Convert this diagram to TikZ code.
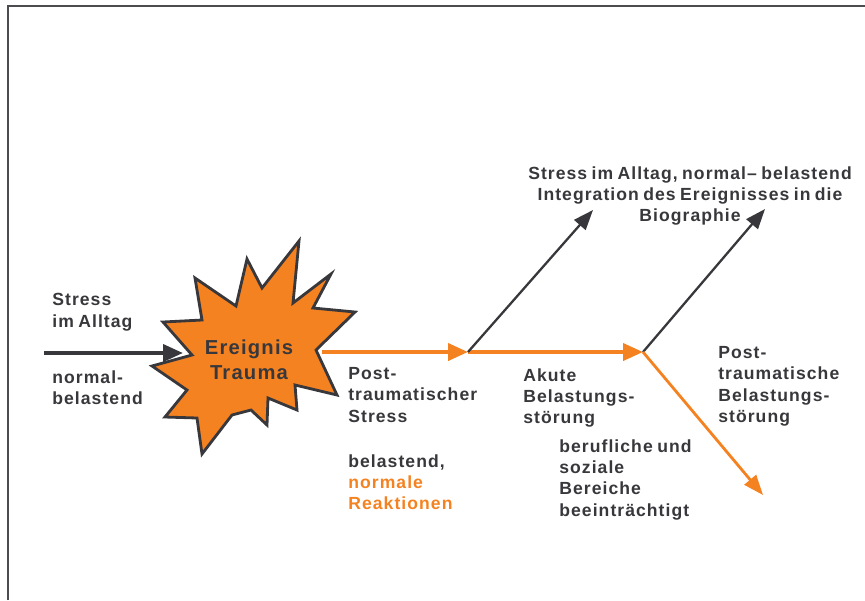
\documentclass[tikz,border=0pt]{standalone}
\usepackage{fontspec}
\usepackage{xcolor}
\usepackage{tikz}
\usetikzlibrary{arrows.meta}

\newfontfamily\diafont{Liberation Sans}[LetterSpace=6, WordSpace=0.75]
\definecolor{ptsorange}{HTML}{F58220}
\definecolor{ptsgray}{HTML}{38383C}

\begin{document}
\begin{tikzpicture}[
x=0.02cm, y=-0.02cm,
every node/.style={inner sep=0pt, text=ptsgray},
lbl/.style={anchor=north west, align=left, font=\diafont\bfseries\fontsize{10}{12.2}\selectfont},
toplbl/.style={anchor=north, align=center, font=\diafont\bfseries\fontsize{10}{12.2}\selectfont},
frame/.style={draw=ptsgray!90, line width=1.2pt},
burst/.style={draw=ptsgray, fill=ptsorange, line width=1.6pt, line join=miter},
darrow/.style={-{Triangle[length=0.4cm, width=0.34cm]}, draw=ptsgray, line width=2.2pt},
oarrow/.style={-{Triangle[length=0.4cm, width=0.34cm]}, draw=ptsorange, line width=2.2pt},
dline/.style={-{Triangle[length=0.4cm, width=0.3cm]}, draw=ptsgray, line width=1.3pt},
oline/.style={-{Triangle[length=0.4cm, width=0.3cm]}, draw=ptsorange, line width=1.6pt}
]

\useasboundingbox (0,0) rectangle (865,600);
\draw[frame] (8,600) -- (8,6) -- (865,6);

\draw[burst] (163,322) -- (202,320) -- (195,278) -- (236,306) -- (247,259) -- (262,288)
  -- (299,241) -- (293,303) -- (331,274) -- (313,308) -- (355,312) -- (316,350)
  -- (337,395) -- (295,385) -- (297,410) -- (268,398) -- (267,425) -- (251,410)
  -- (232,415) -- (202,454) -- (197,418) -- (165,417) -- (187,390) -- (152,366)
  -- (192,355) -- cycle;

\node (trauma) [align=center, font=\diafont\bfseries\fontsize{11.5}{14.2}\selectfont] at (249,360) {Ereignis\\Trauma};

\coordinate (start) at (44,353);
\coordinate (in) at (183,353);
\coordinate (out) at (322,352);
\coordinate (j1) at (468,352);
\coordinate (j2) at (643,352);
\coordinate (t1) at (593,210);
\coordinate (t2) at (765,209);
\coordinate (t3) at (763,495);

\node (alltag) [lbl] at (52,293) {Stress\\im Alltag};
\node (normal) [lbl] at (52,370) {normal-\\belastend};
\node (pts) [lbl] at (348,367) {Post-\\traumatischer\\Stress};
\node (reakt) [lbl] at (348,454) {belastend,\\\textcolor{ptsorange}{normale}\\\textcolor{ptsorange}{Reaktionen}};
\node (akut) [lbl] at (523,368) {Akute\\Belastungs-\\störung};
\node (beruf) [lbl] at (559,439) {berufliche und\\soziale\\Bereiche\\beeinträchtigt};
\node (ptbs) [lbl] at (718,346) {Post-\\traumatische\\Belastungs-\\störung};
\node (integ) [toplbl] at (690,166) {Stress im Alltag, normal– belastend\\Integration des Ereignisses in die\\Biographie};

\draw[darrow] (start) -- (in);
\draw[oarrow] (out) -- (j1);
\draw[oarrow] (j1) -- (j2);
\draw[dline] (j1) -- (t1);
\draw[dline] (j2) -- (t2);
\draw[oline] (j2) -- (t3);

\end{tikzpicture}
\end{document}
